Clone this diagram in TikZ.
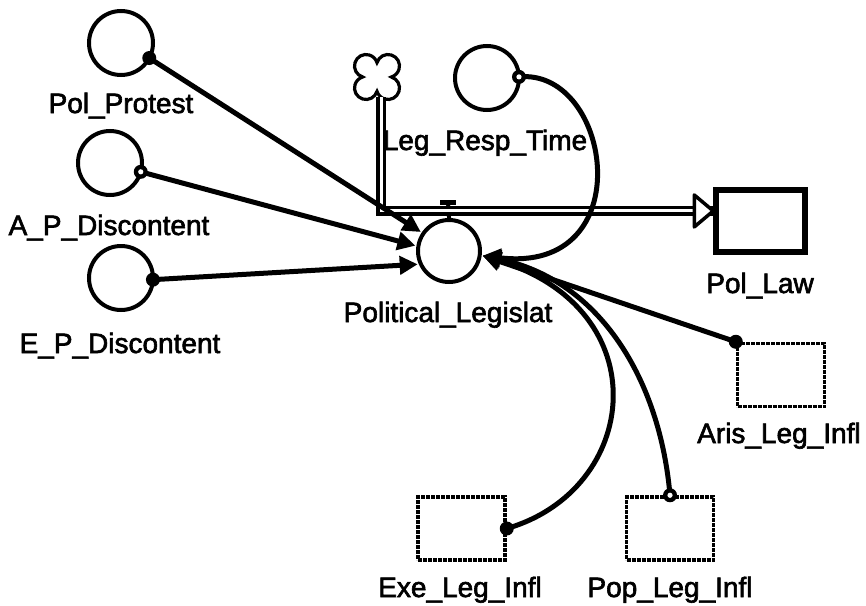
\documentclass[tikz,border=0pt]{standalone}
\usepackage{fontspec}
\setmainfont{Liberation Sans}
\newfontfamily\labfont{Liberation Sans}[FakeBold=2.2]
\usetikzlibrary{arrows.meta}
\begin{document}
\begin{tikzpicture}[x=1pt,y=-1pt,
  aux/.style={circle,draw,line width=4pt,minimum size=64pt,inner sep=0pt,outer sep=0pt},
  stock/.style={draw,line width=5.5pt,minimum width=89pt,minimum height=62pt,inner sep=0pt},
  ghost/.style={draw,line width=3.5pt,dash pattern=on 4pt off 1pt,minimum width=87pt,minimum height=63pt,inner sep=0pt},
  lbl/.style={font=\labfont\fontsize{28}{30}\selectfont,inner sep=0pt,anchor=base},
  link/.style={line width=5pt,-{Triangle[length=18pt,width=18pt]}},
  pipe/.style={line width=3.5pt,double=white,double distance=3pt},
  tapdot/.style={fill=black},
]
\useasboundingbox (0,0) rectangle (866,605);

% converters
\node[aux] (pp)  at (121,43)  {};
\node[aux] (ap)  at (110,163) {};
\node[aux] (ep)  at (121,278) {};
\node[aux] (lrt) at (487,78)  {};

% flow regulator
\node[aux,minimum size=62pt,outer sep=3pt] (valve) at (449,251) {};
\coordinate (tbar) at (448,202);

% stocks
\node[stock] (law)  at (760.5,221) {};
\node[ghost] (aris) at (781,375)   {};
\node[ghost] (exe)  at (461.5,528.5) {};
\node[ghost] (pop)  at (670,528.5) {};

% source cloud (four-lobed outline)
\node[circle,minimum size=40pt,inner sep=0pt] (cloud) at (377,77) {};
\begin{scope}[shift={(cloud.center)},x=1pt,y=1pt]
  \draw[line width=3.2pt,fill=white]
    (0,14.35) arc[start angle=163.1,end angle=-73.1,radius=11.5]
              arc[start angle=73.1,end angle=-163.1,radius=11.5]
              arc[start angle=-16.9,end angle=-253.1,radius=11.5]
              arc[start angle=-106.9,end angle=-343.1,radius=11.5] -- cycle;
\end{scope}

% valve handle
\draw[line width=4pt,shorten <=-3pt] (valve.north) -- (tbar);
\draw[line width=5pt] ([xshift=-8pt]tbar) -- ([xshift=8pt]tbar);

% flow pipe into Pol_Law
\draw[pipe] ([xshift=4pt]cloud.south) |- (law.168);
\draw[line width=3.5pt,fill=white,line join=round] (law.168) -- ++(-19,-16) -- ++(0,32) -- cycle;

% connectors
\draw[link] (pp.332) -- (valve.146);
\draw[link] (ap.344) -- (valve.171);
\draw[link] (ep.357) -- (valve.203);
\draw[link] (lrt.2) .. controls (612,68) and (642,275) .. (valve.352);
\draw[link] (aris.north west) -- (valve.352);
\draw[link] (exe.east) .. controls (640,490) and (660,310) .. (valve.352);
\draw[link] (pop.north) .. controls (660,380) and (600,280) .. (valve.352);

% connector taps
\foreach \p in {pp.332,ap.344,ep.357,lrt.2,aris.north west,exe.east,pop.north}
  \fill[tapdot] (\p) circle (7);
\foreach \p in {ap.344,lrt.2,pop.north}
  \fill[white] (\p) circle (2.6);

% labels
\node[lbl] (tpp)  at (121,113) {Pol\_Protest};
\node[lbl] (tap)  at (109,235) {A\_P\_Discontent};
\node[lbl] (tep)  at (120,353) {E\_P\_Discontent};
\node[lbl] (tlrt) at (485,150) {Leg\_Resp\_Time};
\node[lbl] (tval) at (448,322) {Political\_Legislat};
\node[lbl] (tlaw) at (760,293) {Pol\_Law};
\node[lbl,anchor=base west] (taris) at (697,443) {Aris\_Leg\_Infl};
\node[lbl] (texe) at (460,597) {Exe\_Leg\_Infl};
\node[lbl] (tpop) at (670,597) {Pop\_Leg\_Infl};
\end{tikzpicture}
\end{document}
